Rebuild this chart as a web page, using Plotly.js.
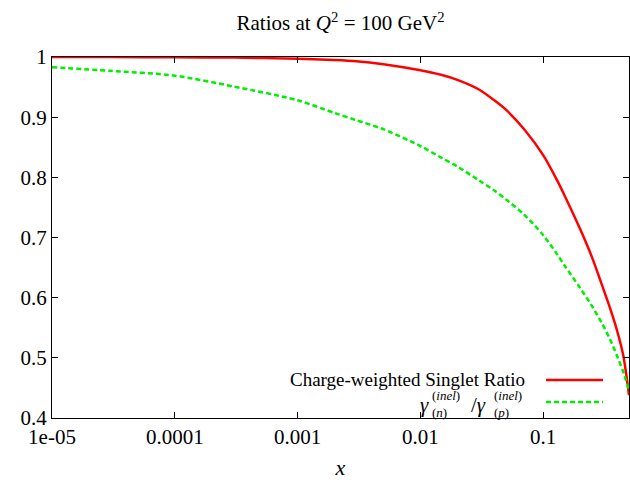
<!DOCTYPE html>
<html>
<head>
<meta charset="utf-8">
<script src="https://cdn.plot.ly/plotly-3.0.1.min.js"></script>
<style>html,body{margin:0;padding:0;background:#fff;}#chart{width:630px;height:480px;}</style>
</head>
<body>
<div id="chart"></div>
<script>
// x values (Bjorken x)
const xValues = [1e-5, 3e-5, 1e-4, 3e-4, 1e-3, 2e-3, 3e-3, 5e-3, 0.01, 0.015, 0.02, 0.03, 0.04, 0.05, 0.07, 0.1, 0.13, 0.15, 0.2, 0.25, 0.3, 0.35, 0.4, 0.45, 0.5];
// Charge-weighted singlet ratio
const singletRatio = [1.0, 0.9998, 0.9995, 0.999, 0.997, 0.995, 0.993, 0.988, 0.978, 0.970, 0.962, 0.946, 0.928, 0.912, 0.880, 0.837, 0.795, 0.769, 0.714, 0.667, 0.622, 0.583, 0.545, 0.503, 0.438];
// gamma_(n)^(inel) / gamma_(p)^(inel)
const gammaRatio = [0.983, 0.977, 0.969, 0.951, 0.928, 0.907, 0.895, 0.880, 0.852, 0.832, 0.818, 0.795, 0.778, 0.763, 0.738, 0.704, 0.672, 0.653, 0.616, 0.586, 0.558, 0.531, 0.503, 0.476, 0.446];

const xTickVals = [1e-5, 1e-4, 1e-3, 0.01, 0.1];
const xTickText = ['1e-05', '0.0001', '0.001', '0.01', '0.1'];
const yTickVals = [0.4, 0.5, 0.6, 0.7, 0.8, 0.9, 1.0];
const yTickText = ['0.4', '0.5', '0.6', '0.7', '0.8', '0.9', '1'];

const seriesNames = ['Charge-weighted Singlet Ratio', 'γ(n)(inel)/γ(p)(inel)'];

const FONT = '"Liberation Serif", "Times New Roman", serif';

const traces = [
  {x: xValues, y: singletRatio, mode: 'lines', name: seriesNames[0],
   line: {color: '#ff0000', width: 2.5, shape: 'spline', smoothing: 0.8}, showlegend: false},
  {x: xValues, y: gammaRatio, mode: 'lines', name: seriesNames[1],
   line: {color: '#00ee00', width: 2.5, dash: '5px,3px', shape: 'spline', smoothing: 0.8}, showlegend: false}
];

// pixel -> paper helpers for legend placement
const px = v => (v - 52) / 577;
const py = v => (418 - v) / 361;

function txt(x, y, text, size, anchor) {
  return {xref: 'paper', yref: 'paper', x: px(x), y: py(y), xanchor: anchor || 'left', yanchor: 'middle',
          text: text, showarrow: false, font: {family: FONT, size: size, color: '#000'}};
}

const layout = {
  width: 630, height: 480,
  margin: {l: 52, r: 1, t: 57, b: 62},
  paper_bgcolor: '#fff', plot_bgcolor: '#fff',
  font: {family: FONT, size: 20, color: '#000'},
  title: {text: 'Ratios at <i>Q</i><sup>2</sup> = 100 GeV<sup>2</sup>',
          font: {family: FONT, size: 21, color: '#000'},
          x: 0.5405, xanchor: 'center', y: 0.952, yanchor: 'middle'},
  xaxis: {type: 'log', range: [-5, Math.log10(0.5)],
          tickvals: xTickVals, ticktext: xTickText,
          ticks: 'inside', ticklen: 6, tickcolor: '#000', tickwidth: 1,
          showline: true, linecolor: '#000', linewidth: 1, mirror: 'ticks',
          showgrid: false, zeroline: false,
          tickfont: {family: FONT, size: 21, color: '#000'},
          title: {text: '<i>x</i>', font: {family: FONT, size: 22, color: '#000'}, standoff: 16}},
  yaxis: {range: [0.4, 1.0],
          tickvals: yTickVals, ticktext: yTickText,
          ticks: 'inside', ticklen: 6, tickcolor: '#000', tickwidth: 1,
          showline: true, linecolor: '#000', linewidth: 1, mirror: 'ticks',
          showgrid: false, zeroline: false,
          tickfont: {family: FONT, size: 21, color: '#000'}},
  annotations: [
    txt(527, 379, seriesNames[0], 19, 'right'),
    txt(418, 405, '<i>γ</i>', 21),
    txt(430, 395, '(<i>inel</i>)', 13),
    txt(430, 412, '(<i>n</i>)', 13),
    txt(469, 405, '/<i>γ</i>', 21),
    txt(492, 395, '(<i>inel</i>)', 13),
    txt(492, 412, '(<i>p</i>)', 13)
  ],
  shapes: [
    {type: 'line', xref: 'paper', yref: 'paper', x0: px(546), x1: px(603), y0: py(380), y1: py(380),
     line: {color: '#ff0000', width: 2.5}},
    {type: 'line', xref: 'paper', yref: 'paper', x0: px(546), x1: px(603), y0: py(402), y1: py(402),
     line: {color: '#00ee00', width: 2.5, dash: '5px,3px'}}
  ]
};

Plotly.newPlot('chart', traces, layout, {displayModeBar: false, staticPlot: true});
</script>
</body>
</html>
